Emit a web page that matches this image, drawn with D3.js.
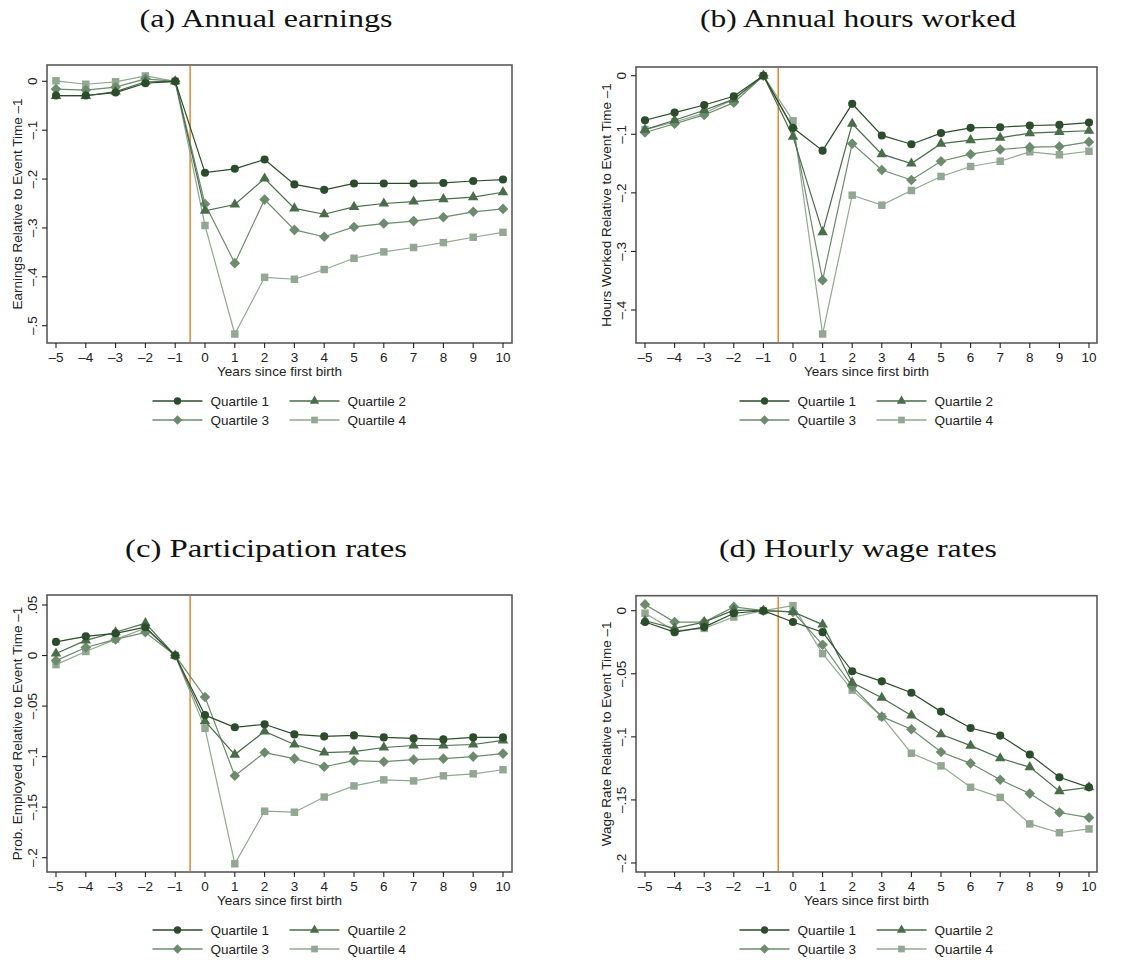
<!DOCTYPE html>
<html>
<head>
<meta charset="utf-8">
<script src="https://cdn.jsdelivr.net/npm/d3@7"></script>
<style>
  body { margin: 0; background: #fff; }
  svg { display: block; }
  text { font-family: "Liberation Sans", Arial, sans-serif; fill: #222; }
  .ptitle { font-family: "Liberation Serif", "DejaVu Serif", serif; font-size: 25px; fill: #111; }
</style>
</head>
<body>
<svg width="1124" height="960"></svg>
<script>
// event time (years since first birth)
const years = [-5, -4, -3, -2, -1, 0, 1, 2, 3, 4, 5, 6, 7, 8, 9, 10];
const quartiles = ["Quartile 1", "Quartile 2", "Quartile 3", "Quartile 4"];

// (a) annual earnings
const earnQ1 = [-0.029, -0.029, -0.023, -0.004, 0, -0.187, -0.179, -0.160, -0.211, -0.222, -0.209, -0.209, -0.209, -0.208, -0.204, -0.201];
const earnQ2 = [-0.030, -0.030, -0.021, -0.001, 0, -0.265, -0.252, -0.199, -0.260, -0.272, -0.257, -0.250, -0.246, -0.241, -0.237, -0.227];
const earnQ3 = [-0.016, -0.018, -0.012, 0.005, 0, -0.251, -0.372, -0.242, -0.304, -0.318, -0.298, -0.291, -0.286, -0.278, -0.267, -0.261];
const earnQ4 = [0.001, -0.006, -0.001, 0.011, 0, -0.295, -0.517, -0.401, -0.405, -0.385, -0.362, -0.349, -0.340, -0.330, -0.319, -0.309];

// (b) annual hours worked
const hoursQ1 = [-0.076, -0.063, -0.050, -0.035, 0, -0.089, -0.128, -0.048, -0.102, -0.117, -0.098, -0.089, -0.088, -0.085, -0.084, -0.080];
const hoursQ2 = [-0.092, -0.076, -0.059, -0.040, 0, -0.104, -0.267, -0.082, -0.134, -0.150, -0.116, -0.110, -0.106, -0.098, -0.096, -0.094];
const hoursQ3 = [-0.097, -0.082, -0.067, -0.046, 0, -0.090, -0.349, -0.116, -0.161, -0.178, -0.146, -0.134, -0.126, -0.122, -0.121, -0.113];
const hoursQ4 = [-0.092, -0.079, -0.064, -0.040, 0, -0.077, -0.441, -0.204, -0.221, -0.196, -0.172, -0.155, -0.146, -0.130, -0.135, -0.129];

// (c) participation rates
const partQ1 = [0.0135, 0.019, 0.022, 0.028, 0, -0.059, -0.071, -0.068, -0.078, -0.080, -0.079, -0.081, -0.082, -0.083, -0.081, -0.081];
const partQ2 = [0.002, 0.015, 0.023, 0.032, 0, -0.065, -0.098, -0.075, -0.088, -0.096, -0.095, -0.091, -0.089, -0.089, -0.088, -0.084];
const partQ3 = [-0.005, 0.008, 0.016, 0.023, 0, -0.041, -0.119, -0.096, -0.102, -0.110, -0.104, -0.105, -0.103, -0.102, -0.100, -0.097];
const partQ4 = [-0.009, 0.004, 0.016, 0.027, 0, -0.072, -0.206, -0.154, -0.155, -0.140, -0.129, -0.123, -0.124, -0.119, -0.117, -0.113];

// (d) hourly wage rates
const wageQ1 = [-0.009, -0.017, -0.013, -0.002, 0, -0.009, -0.017, -0.048, -0.056, -0.065, -0.080, -0.093, -0.099, -0.114, -0.132, -0.140];
const wageQ2 = [-0.008, -0.014, -0.009, 0.0005, 0, -0.001, -0.011, -0.057, -0.069, -0.083, -0.098, -0.107, -0.117, -0.124, -0.143, -0.140];
const wageQ3 = [0.005, -0.009, -0.009, 0.003, 0, -0.001, -0.027, -0.060, -0.084, -0.094, -0.112, -0.121, -0.134, -0.145, -0.160, -0.164];
const wageQ4 = [-0.002, -0.016, -0.014, -0.005, 0, 0.004, -0.034, -0.063, -0.084, -0.113, -0.123, -0.140, -0.148, -0.169, -0.176, -0.173];

// y tick values per panel
const ticksA = [0, -0.1, -0.2, -0.3, -0.4, -0.5];
const ticksB = [0, -0.1, -0.2, -0.3, -0.4];
const ticksC = [0.05, 0, -0.05, -0.1, -0.15, -0.2];
const ticksD = [0, -0.05, -0.1, -0.15, -0.2];

const colors = ["#2c4d2c", "#4a6d4a", "#6d8b6d", "#92a892"];
const orange = "#e3730f";

// square-diamond like Stata's
const diamond = {
  draw(ctx, size) {
    const r = Math.sqrt(size / 2);
    ctx.moveTo(0, -r); ctx.lineTo(r, 0); ctx.lineTo(0, r); ctx.lineTo(-r, 0); ctx.closePath();
  }
};
const shapes = [d3.symbolCircle, d3.symbolTriangle, diamond, d3.symbolSquare];
const sizes = [52, 48, 56, 56];

const fmt = v => v === 0 ? "0" : (v < 0 ? "\u2013" : "") + String(Math.abs(v)).replace(/^0/, "");

const panels = [
  { title: "(a) Annual earnings", ylab: "Earnings Relative to Event Time \u20131",
    series: [earnQ1, earnQ2, earnQ3, earnQ4], ticks: ticksA,
    box: [47, 512, 65, 343], xr: [56, 503], yd: [0, -0.5], yr: [81.3, 325.7],
    titleX: 266, titleY: 27, titleW: 253, tickX: 37, labX: 22 },
  { title: "(b) Annual hours worked", ylab: "Hours Worked Relative to Event Time \u20131",
    series: [hoursQ1, hoursQ2, hoursQ3, hoursQ4], ticks: ticksB,
    box: [636, 1097, 67, 343], xr: [645, 1089], yd: [0, -0.4], yr: [75.7, 310],
    titleX: 858, titleY: 27, titleW: 316, tickX: 626, labX: 611 },
  { title: "(c) Participation rates", ylab: "Prob. Employed Relative to Event Time \u20131",
    series: [partQ1, partQ2, partQ3, partQ4], ticks: ticksC,
    box: [47, 512, 595, 872], xr: [56, 503], yd: [0.05, -0.2], yr: [605, 857.7],
    titleX: 266, titleY: 557, titleW: 282, tickX: 37, labX: 22 },
  { title: "(d) Hourly wage rates", ylab: "Wage Rate Relative to Event Time \u20131",
    series: [wageQ1, wageQ2, wageQ3, wageQ4], ticks: ticksD,
    box: [636, 1097, 595.7, 872], xr: [645, 1089], yd: [0, -0.2], yr: [610.7, 863],
    titleX: 858, titleY: 557, titleW: 278, tickX: 626, labX: 611 }
];

const svg = d3.select("svg");

panels.forEach(p => {
  const [x0, x1, y0, y1] = p.box;
  const x = d3.scaleLinear().domain([-5, 10]).range(p.xr);
  const y = d3.scaleLinear().domain(p.yd).range(p.yr);
  const cx = (x0 + x1) / 2;
  const g = svg.append("g");

  g.append("text").attr("class", "ptitle")
    .attr("x", p.titleX).attr("y", p.titleY).attr("text-anchor", "middle")
    .attr("textLength", p.titleW).attr("lengthAdjust", "spacingAndGlyphs").text(p.title);

  // plot frame
  g.append("rect").attr("x", x0).attr("y", y0).attr("width", x1 - x0).attr("height", y1 - y0)
    .attr("fill", "none").attr("stroke", "#5a5a5a").attr("stroke-width", 1.6);

  // y axis
  g.selectAll("line.yt").data(p.ticks).enter().append("line")
    .attr("x1", x0 - 5).attr("x2", x0).attr("y1", d => y(d)).attr("y2", d => y(d))
    .attr("stroke", "#222").attr("stroke-width", 1.1);
  g.selectAll("text.yt").data(p.ticks).enter().append("text")
    .attr("transform", d => "translate(" + p.tickX + "," + y(d) + ") rotate(-90)")
    .attr("text-anchor", "middle").attr("font-size", 13.5).text(fmt);
  g.append("text")
    .attr("transform", "translate(" + p.labX + "," + ((y0 + y1) / 2) + ") rotate(-90)")
    .attr("text-anchor", "middle").attr("font-size", 13.5).text(p.ylab);

  // x axis
  g.selectAll("line.xt").data(years).enter().append("line")
    .attr("x1", d => x(d)).attr("x2", d => x(d)).attr("y1", y1).attr("y2", y1 + 5)
    .attr("stroke", "#222").attr("stroke-width", 1.1);
  g.selectAll("text.xt").data(years).enter().append("text")
    .attr("x", d => x(d)).attr("y", y1 + 19).attr("text-anchor", "middle")
    .attr("font-size", 13.5).text(fmt);
  g.append("text").attr("x", cx).attr("y", y1 + 33).attr("text-anchor", "middle")
    .attr("font-size", 13.5).text("Years since first birth");

  // event line at -0.5
  g.append("line").attr("x1", x(-0.5)).attr("x2", x(-0.5)).attr("y1", y0 + 1).attr("y2", y1 - 1)
    .attr("stroke", orange).attr("stroke-width", 1.3);

  const line = d3.line().x((d, i) => x(years[i])).y(d => y(d));
  // draw lightest first so darker series sit on top
  [3, 2, 1, 0].forEach(k => {
    const s = p.series[k];
    g.append("path").attr("d", line(s)).attr("fill", "none")
      .attr("stroke", colors[k]).attr("stroke-width", 1.2);
    g.selectAll(null).data(s).enter().append("path")
      .attr("transform", (d, i) => "translate(" + x(years[i]) + "," + y(d) + ")")
      .attr("d", d3.symbol().type(shapes[k]).size(sizes[k]))
      .attr("fill", colors[k]);
  });

  // legend
  const lg = g.append("g").attr("transform", "translate(" + (cx - 127) + "," + (y1 + 58) + ")");
  quartiles.forEach((q, k) => {
    const ox = (k % 2) * 137, oy = Math.floor(k / 2) * 19;
    lg.append("line").attr("x1", ox).attr("x2", ox + 50).attr("y1", oy).attr("y2", oy)
      .attr("stroke", colors[k]).attr("stroke-width", 1.3);
    lg.append("path").attr("transform", "translate(" + (ox + 25) + "," + oy + ")")
      .attr("d", d3.symbol().type(shapes[k]).size(sizes[k] * 0.8)).attr("fill", colors[k]);
    lg.append("text").attr("x", ox + 58).attr("y", oy + 4.5).attr("font-size", 13.5).text(q);
  });
});
</script>
</body>
</html>
